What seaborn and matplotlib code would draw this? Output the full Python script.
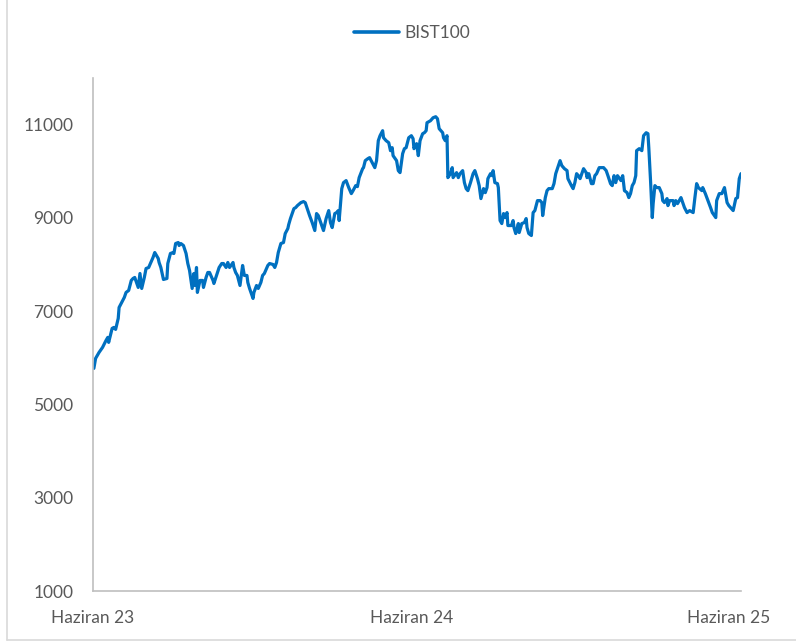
import numpy as np
import pandas as pd
import matplotlib
matplotlib.use("Agg")
import matplotlib.pyplot as plt
import matplotlib.dates as mdates
from matplotlib.lines import Line2D
import seaborn as sns

# ---- data ----
start_date = "2023-06-01"
days = [1, 3, 7, 11, 15, 17, 18, 22, 24, 26, 29, 30, 33, 36, 38, 41, 44, 46, 48, 50,
        52, 54, 56, 59, 61, 64, 69, 71, 75, 76, 78, 80, 81, 85, 86, 89, 92, 93, 95, 98,
        99, 101, 104, 107, 109, 111, 114, 116, 117, 119, 120, 123, 126, 127, 130, 132, 134, 138, 139, 142,
        145, 148, 150, 153, 155, 157, 161, 162, 164, 166, 169, 172, 174, 177, 178, 180, 184, 185, 188, 190,
        193, 195, 197, 201, 203, 207, 209, 211, 213, 216, 219, 221, 224, 225, 227, 229, 231, 233, 235, 239,
        242, 244, 247, 249, 252, 255, 257, 259, 263, 265, 268, 271, 273, 275, 278, 280, 282, 283, 286, 288,
        291, 294, 297, 299, 302, 304, 306, 310, 311, 313, 316, 318, 321, 324, 326, 328, 330, 333, 334, 337,
        340, 342, 344, 345, 349, 351, 353, 356, 358, 360, 363, 366, 368, 369, 372, 374, 376, 379, 381, 383,
        384, 388, 391, 394, 396, 398, 402, 403, 405, 407, 408, 411, 413, 414, 418, 420, 422, 425, 427, 429,
        431, 434, 437, 439, 442, 444, 446, 449, 451, 453, 454, 457, 459, 460, 462, 465, 466, 468, 470, 472,
        474, 476, 477, 481, 483, 484, 486, 489, 490, 493, 496, 498, 499, 501, 504, 506, 508, 511, 514, 516,
        517, 520, 522, 524, 528, 530, 532, 535, 537, 539, 542, 545, 546, 550, 552, 554, 556, 558, 560, 562,
        564, 567, 568, 570, 573, 575, 577, 579, 582, 585, 587, 590, 592, 595, 597, 599, 601, 603, 607, 609,
        611, 614, 616, 618, 620, 622, 624, 625, 628, 631, 633, 636, 638, 639, 641, 643, 644, 646, 648, 651,
        654, 655, 657, 660, 661, 663, 667, 668, 670, 672, 676, 678, 680, 683, 686, 690, 692, 694, 696, 700,
        701, 704, 707, 710, 712, 716, 717, 720, 723, 726, 729, 731, 734, 736, 739, 741, 743, 745]
bist100 = [5774, 5988, 6117, 6224, 6374, 6438, 6331, 6631, 6652, 6609, 6845, 7080, 7187, 7295, 7402, 7444, 7659, 7701, 7723, 7616,
           7509, 7808, 7487, 7723, 7915, 7937, 8151, 8258, 8130, 8044, 7937, 7766, 7680, 7701, 8022, 8237, 8258, 8237, 8451, 8472,
           8408, 8451, 8408, 8237, 8022, 7873, 7487, 7808, 7551, 7937, 7402, 7659, 7659, 7509, 7723, 7830, 7830, 7659, 7594, 7766,
           7937, 8022, 8022, 7937, 8044, 7937, 8044, 7937, 7830, 7766, 7551, 7980, 7766, 7766, 7616, 7487, 7273, 7402, 7551, 7487,
           7616, 7766, 7808, 7980, 8022, 8001, 7937, 8044, 8258, 8451, 8472, 8665, 8772, 8857, 8986, 9093, 9200, 9221, 9264, 9328,
           9350, 9328, 9157, 9050, 8900, 8729, 9093, 9050, 8836, 8729, 8986, 9157, 8900, 8793, 9093, 9114, 9157, 8943, 9628, 9757,
           9800, 9650, 9521, 9585, 9692, 9671, 9864, 10056, 10078, 10228, 10271, 10292, 10185, 10078, 10228, 10656, 10763, 10870, 10720, 10656,
           10613, 10442, 10506, 10335, 10228, 10014, 9971, 10378, 10485, 10506, 10720, 10763, 10699, 10485, 10592, 10335, 10656, 10806, 10827, 10870,
           11041, 11084, 11148, 11170, 11127, 10913, 10827, 10720, 10656, 10763, 9864, 9949, 10078, 9864, 9971, 9864, 9949, 10014, 9757, 9628,
           9585, 9757, 9949, 10014, 9842, 9692, 9414, 9628, 9542, 9650, 9842, 9949, 9906, 10014, 9757, 9735, 9650, 8943, 8879, 9093,
           9007, 9114, 8836, 8836, 8943, 8793, 8665, 8879, 8686, 8879, 8900, 8986, 8793, 8665, 8622, 9114, 9157, 9371, 9371, 9328,
           9050, 9436, 9585, 9628, 9628, 9735, 9949, 10121, 10228, 10121, 10056, 10014, 9842, 9692, 9628, 9757, 9949, 9906, 9842, 9949,
           10056, 9971, 9864, 9949, 9735, 9735, 9906, 9949, 10078, 10078, 10078, 10014, 9906, 9735, 9692, 9906, 9757, 9906, 9800, 9906,
           9585, 9542, 9436, 9521, 9692, 9757, 9906, 10442, 10485, 10442, 10763, 10827, 10806, 10506, 9800, 9007, 9306, 9692, 9650, 9650,
           9521, 9371, 9328, 9414, 9264, 9371, 9371, 9264, 9371, 9306, 9436, 9328, 9221, 9114, 9157, 9114, 9436, 9735, 9650, 9585,
           9650, 9521, 9371, 9221, 9114, 9007, 9371, 9521, 9521, 9650, 9328, 9264, 9200, 9157, 9414, 9436, 9842, 9949]
series_name = "BIST100"
xtick_dates = ["2023-06-01", "2024-06-01", "2025-06-01"]
xtick_labels = ["Haziran 23", "Haziran 24", "Haziran 25"]
ytick_values = [1000, 3000, 5000, 7000, 9000, 11000]

dates = pd.Timestamp(start_date) + pd.to_timedelta(days, unit="D")
df = pd.DataFrame({"Tarih": dates, "Değer": bist100, "Seri": series_name})

# ---- styling ----
sns.set_theme(style="white")
plt.rcParams["font.family"] = ["Lato", "DejaVu Sans"]

fig = plt.figure(figsize=(7.96, 6.44), dpi=100)
ax = fig.add_axes([93 / 796, 1 - 591 / 644, (741 - 93) / 796, (591 - 78) / 644])

line_color = "#0070C0"
sns.lineplot(data=df, x="Tarih", y="Değer", hue="Seri", palette=[line_color],
             linewidth=2.3, ax=ax, legend=True)

ax.set_xlim(dates[0], dates[-1])
ax.set_ylim(1000, 12000)
ax.set_yticks(ytick_values)
ax.set_yticklabels([str(v) for v in ytick_values])
ax.set_xticks(pd.to_datetime(xtick_dates))
ax.set_xticklabels(xtick_labels)
ax.set_xlabel("")
ax.set_ylabel("")

text_color = "#595959"
fs = 12.5
ax.tick_params(axis="y", length=0, pad=14, labelsize=fs, labelcolor=text_color)
ax.tick_params(axis="x", length=0, pad=14, labelsize=fs, labelcolor=text_color)

for side in ["top", "right"]:
    ax.spines[side].set_visible(False)
for side in ["left", "bottom"]:
    ax.spines[side].set_color("#BFBFBF")
    ax.spines[side].set_linewidth(1.2)

leg = ax.legend(loc="center", bbox_to_anchor=(412 / 796, 1 - 33 / 644),
                bbox_transform=fig.transFigure, frameon=False, fontsize=fs,
                handlelength=2.6, handletextpad=0.3)
for t in leg.get_texts():
    t.set_color(text_color)
for h in leg.get_lines():
    h.set_linewidth(2.6)

# thin chart-area border (left and bottom visible in the reference)
fig.add_artist(Line2D([6.5 / 796, 6.5 / 796], [1 - 640 / 644, 1.0], transform=fig.transFigure,
                      color="#D9D9D9", linewidth=1.2))
fig.add_artist(Line2D([6.5 / 796, 1.0], [1 - 640 / 644, 1 - 640 / 644], transform=fig.transFigure,
                      color="#D9D9D9", linewidth=1.2))

fig.savefig("out.png", dpi=100, facecolor="white")
